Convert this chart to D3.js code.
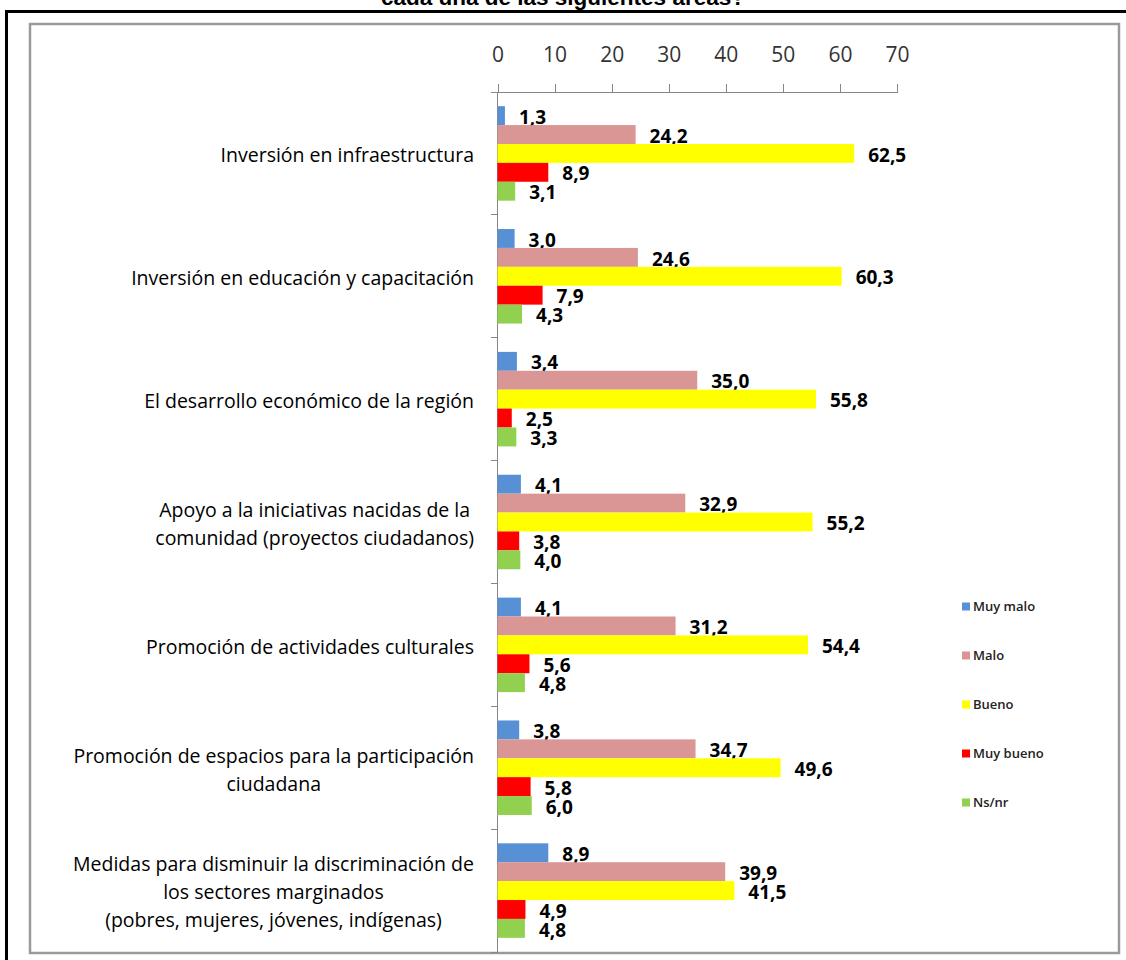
<!DOCTYPE html>
<html>
<head>
<meta charset="utf-8">
<script src="https://cdn.jsdelivr.net/npm/d3@7"></script>
<style>
    body { margin: 0; background: #fff; }
    #svgCanvas { display: block; }
</style>
</head>
<body>
<svg id="svgCanvas" width="1126" height="960"></svg>
<script>
// categories (line breaks as in the original labels)
let categories = [
    "Inversión en infraestructura",
    "Inversión en educación y capacitación",
    "El desarrollo económico de la región",
    "Apoyo a la iniciativas nacidas de la\ncomunidad (proyectos ciudadanos)",
    "Promoción de actividades culturales",
    "Promoción de espacios para la participación\nciudadana",
    "Medidas para disminuir la discriminación de\nlos sectores marginados\n(pobres, mujeres, jóvenes, indígenas)"
];

let seriesNames = ["Muy malo", "Malo", "Bueno", "Muy bueno", "Ns/nr"];
let seriesColors = ["#5890d6", "#d99694", "#ffff00", "#ff0000", "#92d050"];

let muyMalo  = [1.3, 3.0, 3.4, 4.1, 4.1, 3.8, 8.9];
let malo     = [24.2, 24.6, 35.0, 32.9, 31.2, 34.7, 39.9];
let bueno    = [62.5, 60.3, 55.8, 55.2, 54.4, 49.6, 41.5];
let muyBueno = [8.9, 7.9, 2.5, 3.8, 5.6, 5.8, 4.9];
let nsNr     = [3.1, 4.3, 3.3, 4.0, 4.8, 6.0, 4.8];

let xTicks = [0, 10, 20, 30, 40, 50, 60, 70];

let titleText = "cada una de las siguientes áreas?";

window.addEventListener('DOMContentLoaded', (event) => {
    let svg = d3.select('#svgCanvas');
    let seriesValues = [muyMalo, malo, bueno, muyBueno, nsNr];
    let fmt = v => v.toFixed(1).replace('.', ',');

    // title, cut off by the top of the picture
    svg.append('text')
        .attr('x', 563)
        .attr('y', 5)
        .attr('text-anchor', 'middle')
        .style('font-family', '"Liberation Sans", Arial, sans-serif')
        .style('font-weight', 'bold')
        .style('font-size', '22.5px')
        .text(titleText);

    // outer black frame and grey chart border
    svg.append('rect')
        .attr('x', 6.5).attr('y', 11.5)
        .attr('width', 1140).attr('height', 970)
        .attr('fill', 'none').attr('stroke', '#000').attr('stroke-width', 3);
    svg.append('rect')
        .attr('x', 30).attr('y', 24)
        .attr('width', 1089).attr('height', 929)
        .attr('fill', '#fff').attr('stroke', '#9a9a9a').attr('stroke-width', 2.5);

    let x = d3.scaleLinear().domain([0, 70]).range([497.5, 897]);
    let y = d3.scaleBand().domain(categories).range([92, 952]);
    let yInner = d3.scaleBand().domain(seriesNames)
        .range([0, y.bandwidth()])
        .paddingInner(0).paddingOuter(0.75);

    // value axis on top
    let xAxis = svg.append('g')
        .attr('transform', 'translate(0,92)')
        .call(d3.axisTop(x).tickValues(xTicks).tickSize(8).tickSizeOuter(0).tickPadding(22));
    xAxis.selectAll('path, line').attr('stroke', '#868686').attr('shape-rendering', 'crispEdges');
    xAxis.selectAll('text')
        .attr('fill', '#333')
        .style('font-family', '"Open Sans", sans-serif')
        .style('font-size', '21px');

    // category axis
    svg.append('line')
        .attr('x1', x(0)).attr('x2', x(0))
        .attr('y1', 92).attr('y2', 952)
        .attr('stroke', '#868686').attr('shape-rendering', 'crispEdges');
    let bounds = categories.map(c => y(c)).concat([y.range()[1]]);
    svg.append('g').selectAll('line')
        .data(bounds)
        .join('line')
        .attr('x1', x(0) - 7).attr('x2', x(0))
        .attr('y1', d => d).attr('y2', d => d)
        .attr('stroke', '#868686').attr('shape-rendering', 'crispEdges');

    // category labels
    let labelGroup = svg.append('g')
        .style('font-family', '"Open Sans", sans-serif')
        .style('font-size', '19.5px')
        .attr('fill', '#000');
    categories.forEach(c => {
        let lines = c.split('\n');
        let center = y(c) + y.bandwidth() / 2 + 2;
        let texts = lines.map((line, i) => labelGroup.append('text')
            .attr('y', center + (i - (lines.length - 1) / 2) * 28)
            .attr('dy', '0.35em')
            .attr('text-anchor', 'middle')
            .text(line));
        let maxW = d3.max(texts, t => t.node().getComputedTextLength());
        texts.forEach(t => t.attr('x', 474 - maxW / 2));
    });

    // bars
    seriesNames.forEach((name, s) => {
        let g = svg.append('g');
        g.selectAll('rect')
            .data(categories)
            .join('rect')
            .attr('x', x(0))
            .attr('y', c => y(c) + yInner(name))
            .attr('width', (c, i) => x(seriesValues[s][i]) - x(0))
            .attr('height', yInner.bandwidth())
            .attr('fill', seriesColors[s]);
        g.selectAll('text')
            .data(categories)
            .join('text')
            .attr('x', (c, i) => x(seriesValues[s][i]) + 14)
            .attr('y', c => y(c) + yInner(name) + yInner.bandwidth() / 2 + 1.5)
            .attr('dy', '0.35em')
            .style('font-family', '"Open Sans", sans-serif')
            .style('font-weight', 'bold')
            .style('font-size', '19px')
            .text((c, i) => fmt(seriesValues[s][i]));
    });

    // legend
    let legend = svg.append('g')
        .selectAll('g')
        .data(seriesNames)
        .join('g')
        .attr('transform', (d, i) => `translate(962,${606.5 + i * 49})`);
    legend.append('rect')
        .attr('x', 0).attr('y', -4)
        .attr('width', 8).attr('height', 8)
        .attr('fill', (d, i) => seriesColors[i]);
    legend.append('text')
        .attr('x', 11)
        .attr('dy', '0.35em')
        .style('font-family', '"Open Sans", sans-serif')
        .style('font-weight', '600')
        .style('font-size', '13px')
        .attr('fill', '#222')
        .text(d => d);
});
</script>
</body>
</html>
